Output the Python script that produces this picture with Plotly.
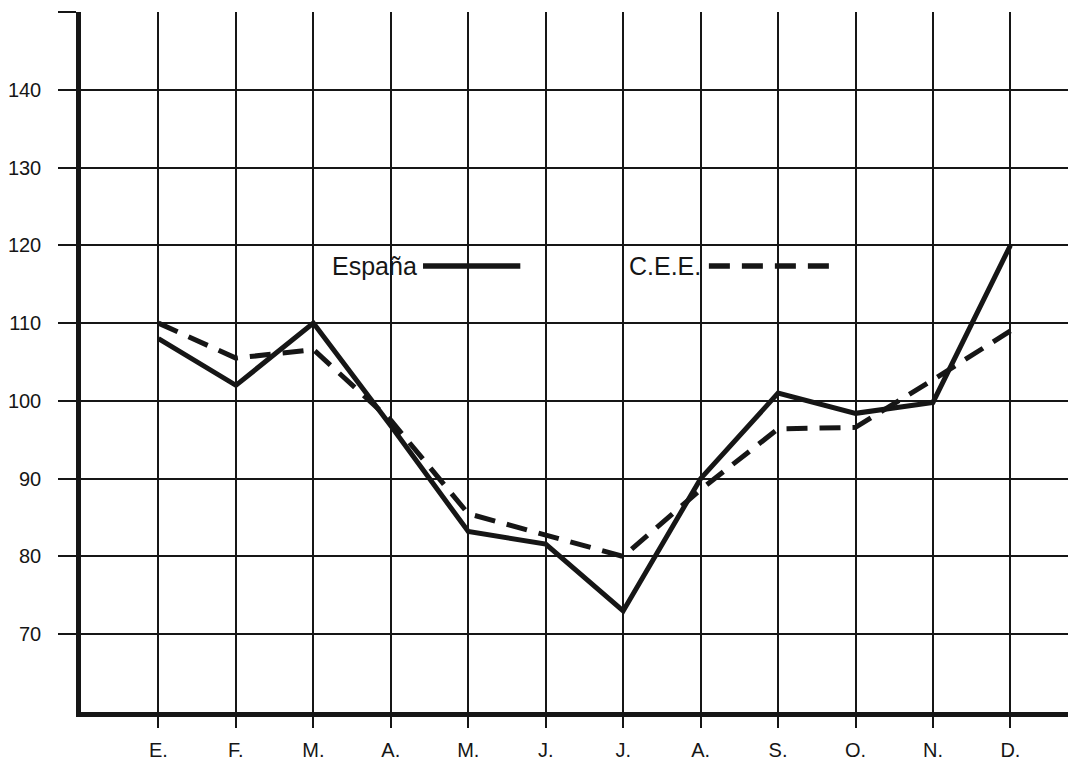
import plotly.graph_objects as go

months = ["E.", "F.", "M.", "A.", "M.", "J.", "J.", "A.", "S.", "O.", "N.", "D."]
espana = [108, 102, 110, 96.8, 83.2, 81.6, 73, 90, 101, 98.4, 99.8, 120]
cee = [110, 105.5, 106.6, 97.5, 85.5, 82.8, 80, 88.6, 96.4, 96.6, 102.7, 109]
y_ticks = [70, 80, 90, 100, 110, 120, 130, 140, 150]
y_labels = ["70", "80", "90", "100", "110", "120", "130", "140", ""]

x = list(range(len(months)))
INK = "#161616"
FONT = "Liberation Sans, Arial, Helvetica"

fig = go.Figure()
fig.add_trace(go.Scatter(x=x, y=espana, mode="lines", name="España",
                         line=dict(color=INK, width=5), showlegend=False))
fig.add_trace(go.Scatter(x=x, y=cee, mode="lines", name="C.E.E.",
                         line=dict(color=INK, width=5, dash="21px,12px"), showlegend=False))

# legend drawn as text followed by a line sample (paper coordinates)
fig.add_annotation(xref="paper", yref="paper", x=0.337, y=0.637, text="España",
                   showarrow=False, xanchor="right", yanchor="middle",
                   font=dict(size=25, color=INK, family=FONT))
fig.add_shape(type="line", xref="paper", yref="paper", x0=0.341, x1=0.438, y0=0.637, y1=0.637,
              line=dict(color=INK, width=5.5))
fig.add_annotation(xref="paper", yref="paper", x=0.620, y=0.637, text="C.E.E.",
                   showarrow=False, xanchor="right", yanchor="middle",
                   font=dict(size=25, color=INK, family=FONT))
fig.add_shape(type="line", xref="paper", yref="paper", x0=0.626, x1=0.748, y0=0.637, y1=0.637,
              line=dict(color=INK, width=5.5, dash="21px,12px"))

fig.update_layout(
    width=1076, height=760,
    margin=dict(l=70, r=0, t=4, b=56),
    paper_bgcolor="white", plot_bgcolor="white",
    font=dict(family=FONT, size=20, color=INK),
    xaxis=dict(range=[-1, 11.95], tickvals=x, ticktext=months,
               showgrid=True, gridcolor=INK, gridwidth=2,
               showline=True, linecolor=INK, linewidth=4.5,
               ticks="outside", ticklen=11, tickwidth=2, tickcolor=INK,
               ticklabelstandoff=5, zeroline=False, fixedrange=True),
    yaxis=dict(range=[60, 150], tickvals=y_ticks, ticktext=y_labels,
               showgrid=True, gridcolor=INK, gridwidth=2,
               showline=True, linecolor=INK, linewidth=4.5,
               ticks="outside", ticklen=18, tickwidth=2, tickcolor=INK,
               ticklabelstandoff=13, zeroline=False, fixedrange=True),
    showlegend=False,
)

fig.write_html("out.html")
